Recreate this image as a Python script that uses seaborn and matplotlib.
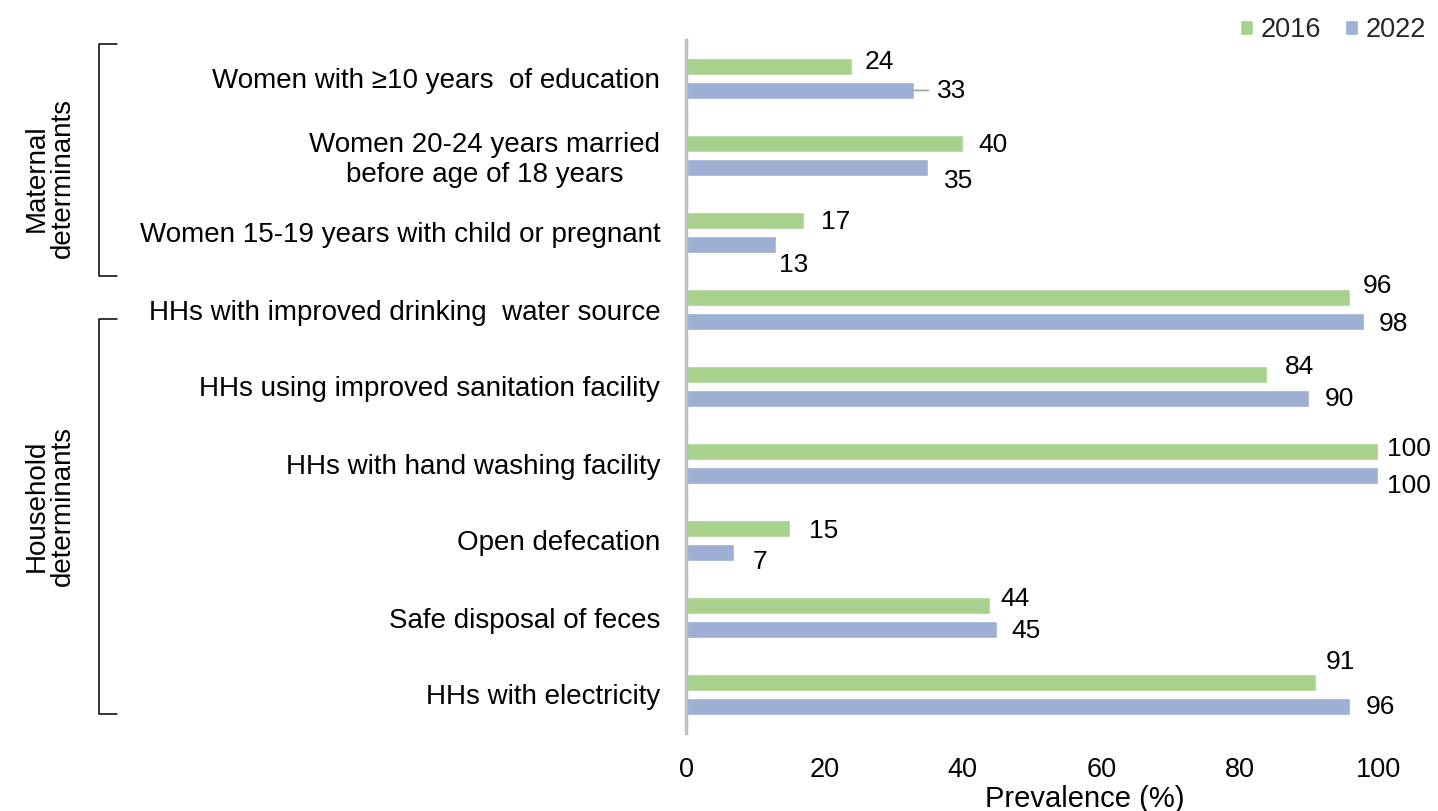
import matplotlib
matplotlib.use("Agg")
import matplotlib.pyplot as plt
import seaborn as sns
import pandas as pd

categories = [
    "Women with \u226510 years  of education",
    "Women 20-24 years married\nbefore age of 18 years",
    "Women 15-19 years with child or pregnant",
    "HHs with improved drinking  water source",
    "HHs using improved sanitation facility",
    "HHs with hand washing facility",
    "Open defecation",
    "Safe disposal of feces",
    "HHs with electricity",
]
years = ["2016", "2022"]
values_2016 = [24, 40, 17, 96, 84, 100, 15, 44, 91]
values_2022 = [33, 35, 13, 98, 90, 100, 7, 45, 96]
x_ticks = [0, 20, 40, 60, 80, 100]
group_names = ["Maternal\ndeterminants", "Household\ndeterminants"]

# label nudges in pixels (dx from bar end, dy from bar centre; +dy = down)
label_shift_2016 = [(13, -5), (16, 1), (17, 1.5), (12, -12), (18, -8), (9, -3), (19, 2), (10, -7), (10, -21)]
label_shift_2022 = [(23, 1), (16, 13.5), (3, 20.5), (15, 3), (16, 1), (9, 11), (18, 10), (14, 2), (15, 1)]

colors = {"2016": "#A9D18E", "2022": "#9DAFD3"}

df = pd.DataFrame({
    "category": categories * 2,
    "year": [years[0]] * len(categories) + [years[1]] * len(categories),
    "value": values_2016 + values_2022,
})

sns.set_theme(style="white")
plt.rcParams["font.family"] = ["Liberation Sans", "DejaVu Sans"]
FS_CAT = 20
FS_VAL = 19
FS_TICK = 19.5
FS_XLAB = 21

W, H = 1438, 811
fig = plt.figure(figsize=(W / 100, H / 100), dpi=100)
ax = fig.add_axes([686 / W, 1 - 733 / H, 692 / W, 693 / H])

sns.barplot(data=df, y="category", x="value", hue="year", order=categories,
            hue_order=years, palette=colors, orient="h", width=0.62, gap=0.29,
            saturation=1, ax=ax, legend=True)

ax.set_xlim(0, 100)
ax.set_ylim(len(categories) - 0.5, -0.5)
ax.set_xticks(x_ticks)
ax.set_xticklabels([str(t) for t in x_ticks], fontsize=FS_TICK, color="black")
ax.tick_params(axis="x", length=0, pad=17)
ax.tick_params(axis="y", length=0, pad=18.5)
ax.set_yticks(range(len(categories)))
ax.set_yticklabels(categories, fontsize=FS_CAT, color="black", ha="right",
                   multialignment="center")
ax.set_ylabel("")
ax.set_xlabel("")
for s in ["top", "right", "bottom"]:
    ax.spines[s].set_visible(False)
ax.spines["left"].set_color("#BFBFBF")
ax.spines["left"].set_linewidth(2.5)
ax.patch.set_alpha(0)

fig.text(1085 / W, 1 - 799 / H, "Prevalence (%)", ha="center", va="center",
         fontsize=FS_XLAB, color="black")

px = 72 / 100  # pixel -> points
for container, shifts, vals in zip(ax.containers, [label_shift_2016, label_shift_2022],
                                   [values_2016, values_2022]):
    for bar, (dx, dy), v in zip(container, shifts, vals):
        yc = bar.get_y() + bar.get_height() / 2
        ax.annotate(str(v), xy=(bar.get_width(), yc), xytext=(dx * px, -dy * px),
                    textcoords="offset points", ha="left", va="center",
                    fontsize=FS_VAL, color="black", annotation_clip=False)

# leader line for the 2022 education label
b = ax.containers[1][0]
ax.annotate("", xy=(b.get_width(), b.get_y() + b.get_height() / 2),
            xytext=(14 * px, 0), textcoords="offset points",
            arrowprops=dict(arrowstyle="-", color="#A6A6A6", lw=1.3,
                            shrinkA=0, shrinkB=0))

# legend
handles, labels = ax.get_legend_handles_labels()
if ax.get_legend():
    ax.get_legend().remove()
fig.legend(handles, labels, loc="center right", bbox_to_anchor=(1426 / W, 1 - 30 / H),
           ncol=2, frameon=False, fontsize=FS_TICK, handlelength=0.5, handleheight=0.5,
           handletextpad=0.27, columnspacing=0.87, borderaxespad=0, borderpad=0)

# group brackets
def bracket(y_top, y_bot, x=99, x_end=117):
    yt, yb = 1 - y_top / H, 1 - y_bot / H
    xs, xe = x / W, x_end / W
    fig.add_artist(plt.Line2D([xe, xs, xs, xe], [yt, yt, yb, yb], transform=fig.transFigure,
                              color="black", lw=1.1))

bracket(44, 276)
bracket(319, 714)
fig.text(50 / W, 1 - 178 / H, group_names[0], rotation=90, ha="center", va="center",
         fontsize=FS_CAT, color="black", multialignment="center", linespacing=1.0)
fig.text(50 / W, 1 - 506 / H, group_names[1], rotation=90, ha="center", va="center",
         fontsize=FS_CAT, color="black", multialignment="center", linespacing=1.0)

fig.savefig("out.png", dpi=100)
